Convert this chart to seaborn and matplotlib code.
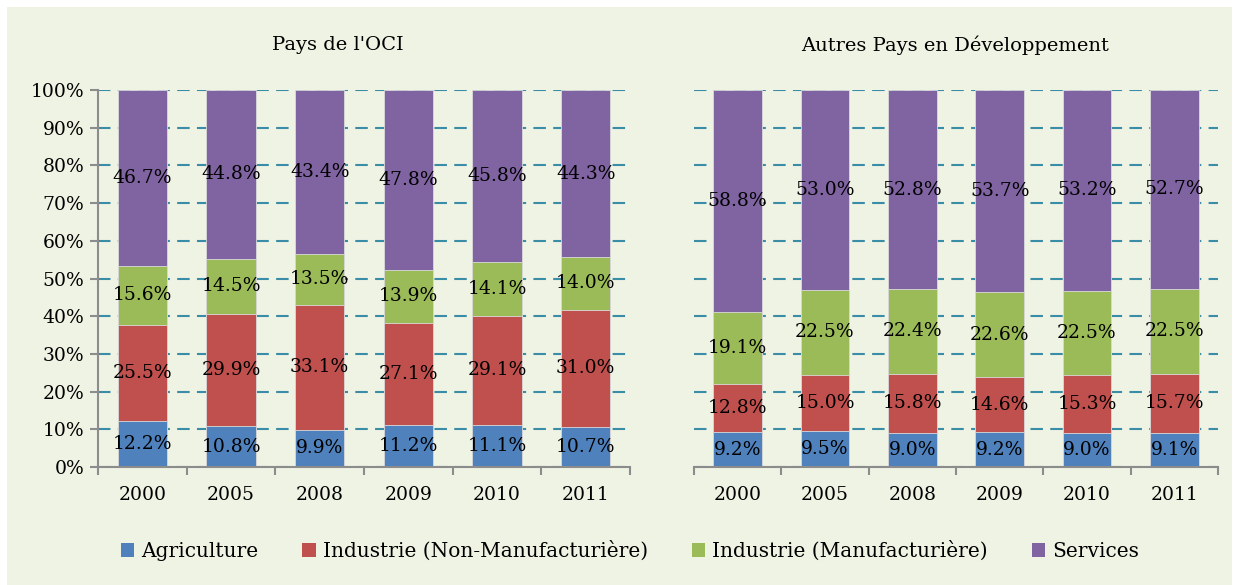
import matplotlib
matplotlib.use("Agg")
import matplotlib.pyplot as plt
from matplotlib.patches import Rectangle, Patch
import numpy as np
import pandas as pd
import seaborn as sns

years = ["2000", "2005", "2008", "2009", "2010", "2011"]
series = ["Agriculture", "Industrie (Non-Manufacturière)",
          "Industrie (Manufacturière)", "Services"]
colors = ["#4F81BD", "#C0504D", "#9BBB59", "#8064A2"]

oci_agri = [12.2, 10.8, 9.9, 11.2, 11.1, 10.7]
oci_nonmanuf = [25.5, 29.9, 33.1, 27.1, 29.1, 31.0]
oci_manuf = [15.6, 14.5, 13.5, 13.9, 14.1, 14.0]
oci_services = [46.7, 44.8, 43.4, 47.8, 45.8, 44.3]

apd_agri = [9.2, 9.5, 9.0, 9.2, 9.0, 9.1]
apd_nonmanuf = [12.8, 15.0, 15.8, 14.6, 15.3, 15.7]
apd_manuf = [19.1, 22.5, 22.4, 22.6, 22.5, 22.5]
apd_services = [58.8, 53.0, 52.8, 53.7, 53.2, 52.7]

titles = ["Pays de l'OCI", "Autres Pays en Développement"]
yticks = [0, 10, 20, 30, 40, 50, 60, 70, 80, 90, 100]

sns.set_theme(style="white")
FONT = ["DejaVu Serif"]
plt.rcParams["font.family"] = FONT
plt.rcParams["text.color"] = "black"
plt.rcParams["xtick.color"] = "black"
plt.rcParams["ytick.color"] = "black"

W, H = 1239, 585
fig = plt.figure(figsize=(W / 100, H / 100), dpi=100, facecolor="white")
fig.patches.append(Rectangle((7 / W, 0), (W - 14) / W, (H - 7) / H,
                             transform=fig.transFigure, facecolor="#EFF3E4",
                             edgecolor="none", zorder=-10))

def px_ax(x0, x1, ytop, ybot):
    return fig.add_axes([x0 / W, (H - ybot) / H, (x1 - x0) / W, (ybot - ytop) / H])

ax1 = px_ax(98, 630, 90, 467)
ax2 = px_ax(694, 1218, 90, 467)

GRID = "#3A8DA6"
AXC = "#8C8C8C"
FS = 13.5

datasets = [
    [oci_agri, oci_nonmanuf, oci_manuf, oci_services],
    [apd_agri, apd_nonmanuf, apd_manuf, apd_services],
]

for k, (ax, data) in enumerate(zip([ax1, ax2], datasets)):
    df = pd.DataFrame({s: v for s, v in zip(series, data)}, index=years)
    pct = df.div(df.sum(axis=1), axis=0) * 100
    cum = pct.cumsum(axis=1)
    ax.set_facecolor("none")
    for yv in yticks:
        ax.axhline(yv, color=GRID, lw=1.5, ls=(0, (6, 3.5)), zorder=0.5)
    for j in range(len(series) - 1, -1, -1):
        sns.barplot(x=years, y=cum[series[j]].values, color=colors[j],
                    saturation=1, width=0.56, ax=ax, edgecolor="#DADADA",
                    linewidth=0.6, zorder=2)
    for i, yr in enumerate(years):
        bottom = 0
        for j, s in enumerate(series):
            h = pct.loc[yr, s]
            ax.text(i, bottom + h / 2, f"{df.loc[yr, s]:.1f}%", ha="center",
                    va="center", fontsize=FS, color="black", zorder=5)
            bottom += h
    ax.set_xlim(-0.5, 5.5)
    ax.set_ylim(0, 100)
    for sp in ["top", "right"]:
        ax.spines[sp].set_visible(False)
    ax.spines["bottom"].set_color(AXC)
    ax.spines["bottom"].set_linewidth(1.5)
    ax.spines["bottom"].set_zorder(6)
    ax.set_xticks(np.arange(-0.5, 6, 1))
    ax.set_xticklabels([])
    ax.set_xticks(np.arange(0, 6), minor=True)
    ax.set_xticklabels(years, minor=True, fontsize=FS)
    ax.tick_params(axis="x", which="major", direction="out", length=6,
                   width=1.5, color=AXC, bottom=True)
    ax.tick_params(axis="x", which="minor", length=0, pad=14)
    ax.set_xlabel("")
    if k == 0:
        ax.spines["left"].set_color(AXC)
        ax.spines["left"].set_linewidth(1.5)
        ax.set_yticks(yticks)
        ax.set_yticklabels([f"{v}%" for v in yticks], fontsize=FS)
        ax.tick_params(axis="y", direction="out", length=6, width=1.5,
                       color=AXC, left=True, pad=4)
    else:
        ax.spines["left"].set_visible(False)
        ax.set_yticks([])
    ax.grid(False)

fig.text(338 / W, 1 - 45 / H, titles[0], ha="center", va="center",
         fontsize=14, color="black")
fig.text(955 / W, 1 - 45 / H, titles[1], ha="center", va="center",
         fontsize=14, color="black")

handles = [Patch(facecolor=c, edgecolor="none") for c in colors]
fig.legend(handles, series, loc="center", bbox_to_anchor=(630 / W, 1 - 551 / H),
           ncol=4, frameon=False, fontsize=14.5, handlelength=0.65, handleheight=0.65,
           handletextpad=0.35, columnspacing=2.2)

fig.savefig("out.png", dpi=100, facecolor="white")
